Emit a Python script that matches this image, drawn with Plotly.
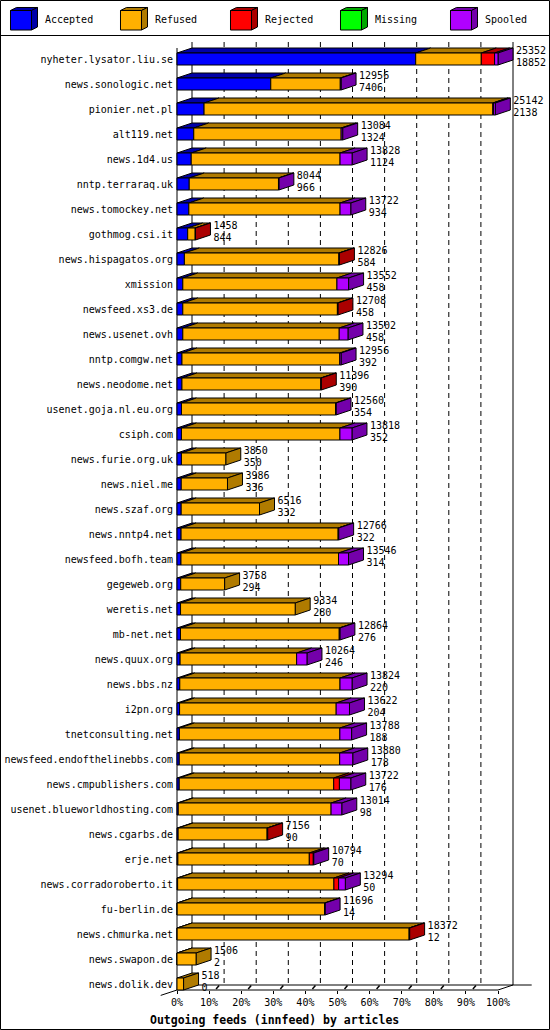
import plotly.graph_objects as go

hosts = [
    'nyheter.lysator.liu.se', 'news.sonologic.net', 'pionier.net.pl', 'alt119.net',
    'news.1d4.us', 'nntp.terraraq.uk', 'news.tomockey.net', 'gothmog.csi.it',
    'news.hispagatos.org', 'xmission', 'newsfeed.xs3.de', 'news.usenet.ovh',
    'nntp.comgw.net', 'news.neodome.net', 'usenet.goja.nl.eu.org', 'csiph.com',
    'news.furie.org.uk', 'news.niel.me', 'news.szaf.org', 'news.nntp4.net',
    'newsfeed.bofh.team', 'gegeweb.org', 'weretis.net', 'mb-net.net',
    'news.quux.org', 'news.bbs.nz', 'i2pn.org', 'tnetconsulting.net',
    'newsfeed.endofthelinebbs.com', 'news.cmpublishers.com', 'usenet.blueworldhosting.com', 'news.cgarbs.de',
    'erje.net', 'news.corradoroberto.it', 'fu-berlin.de', 'news.chmurka.net',
    'news.swapon.de', 'news.dolik.dev',
]
totals = [
    25352, 12956, 25142, 13084, 13828, 8044, 13722, 1458,
    12826, 13552, 12708, 13502, 12956, 11396, 12560, 13818,
    3850, 3986, 6516, 12766, 13546, 3758, 9334, 12864,
    10264, 13824, 13622, 13788, 13880, 13722, 13014, 7156,
    10794, 13294, 11696, 18372, 1506, 518,
]
accepted = [
    18852, 7406, 2138, 1324, 1124, 966, 934, 844,
    584, 458, 458, 458, 392, 390, 354, 352,
    350, 336, 332, 322, 314, 294, 280, 276,
    246, 220, 204, 188, 178, 176, 98, 90,
    70, 50, 14, 12, 2, 0,
]
refused = [
    5180, 5490, 22804, 11640, 11754, 7048, 11943, 594,
    12202, 12174, 12210, 12354, 12464, 10966, 12166, 12516,
    3500, 3650, 6184, 12404, 12442, 3464, 9054, 12538,
    9203, 12654, 12368, 12675, 12672, 12201, 12071, 7026,
    10379, 12344, 11642, 18320, 1504, 518,
]
rejected = [
    1050, 0, 60, 0, 0, 0, 0, 20,
    40, 0, 40, 0, 0, 40, 0, 0,
    0, 0, 0, 0, 0, 0, 0, 0,
    0, 0, 0, 0, 0, 450, 0, 40,
    315, 370, 0, 40, 0, 0,
]
missing = [
    0, 0, 0, 0, 0, 0, 0, 0,
    0, 0, 0, 0, 0, 0, 0, 0,
    0, 0, 0, 0, 0, 0, 0, 0,
    0, 0, 0, 0, 0, 0, 0, 0,
    0, 0, 0, 0, 0, 0,
]
spooled = [
    270, 60, 140, 120, 950, 30, 845, 0,
    0, 920, 0, 690, 100, 0, 40, 950,
    0, 0, 0, 40, 790, 0, 0, 50,
    815, 950, 1050, 925, 1030, 895, 845, 0,
    30, 530, 40, 0, 0, 0,
]

categories = ['Accepted', 'Refused', 'Rejected', 'Missing', 'Spooled']
front_colors = ['#0000ff', '#ffb000', '#ff0000', '#00ff00', '#b000ff']
dark_colors = ['#0000a8', '#b07b00', '#aa0000', '#00a800', '#7400aa']
tick_labels = ['0%', '10%', '20%', '30%', '40%', '50%', '60%', '70%', '80%', '90%', '100%']

W, H = 550, 1030
FONT = 'DejaVu Sans Mono'

# pixel layout of the gd-style 3d chart
X0_PX = 177      # front left axis
SPAN_PX = 321    # width of 0..100%
ROW0_PX = 59     # centre of first row
ROW_PX = 25      # row pitch
DEPTH_X = 15
DEPTH_Y = 5
BAR_H = 12


def ypx(p):
    return (p - ROW0_PX) / ROW_PX


def paper(x, y):
    return x / W, 1 - y / H


def path(pts):
    return 'M ' + ' L '.join('%.5f,%.5f' % paper(px, py) for px, py in pts) + ' Z'


def main():
    xmax = max(totals)
    apx = xmax / SPAN_PX
    dx = DEPTH_X * apx
    dy = DEPTH_Y / ROW_PX
    hh = BAR_H / 2 / ROW_PX

    series = [accepted, refused, rejected, missing, spooled]
    front = [([], []) for _ in categories]
    top = [([], []) for _ in categories]
    side = [([], []) for _ in categories]

    for i in range(len(hosts)):
        x = 0
        last = None
        for c, values in enumerate(series):
            v = values[i]
            if v <= 0:
                continue
            x1 = x + v
            front[c][0].extend([x, x1, x1, x, x, None])
            front[c][1].extend([i - hh, i - hh, i + hh, i + hh, i - hh, None])
            top[c][0].extend([x, x1, x1 + dx, x + dx, x, None])
            top[c][1].extend([i - hh, i - hh, i - hh - dy, i - hh - dy, i - hh, None])
            x = x1
            last = c
        side[last][0].extend([x, x + dx, x + dx, x, x, None])
        side[last][1].extend([i - hh, i - hh - dy, i + hh - dy, i + hh, i - hh, None])

    fig = go.Figure()
    for faces, colors in ((top, dark_colors), (side, dark_colors), (front, front_colors)):
        for c, (xs, ys) in enumerate(faces):
            if not xs:
                continue
            fig.add_trace(go.Scatter(
                x=xs, y=ys, mode='lines', fill='toself', fillcolor=colors[c],
                line=dict(color='black', width=1), name=categories[c],
                hoverinfo='skip', showlegend=False,
            ))

    label_x = [t + dx + 3 * apx for t in totals]
    rows = list(range(len(hosts)))
    fig.add_trace(go.Scatter(
        x=label_x, y=[r - 0.3 for r in rows], mode='text', text=[str(t) for t in totals],
        textposition='middle right', textfont=dict(family=FONT, size=10, color='black'),
        hoverinfo='skip', showlegend=False, cliponaxis=False,
    ))
    fig.add_trace(go.Scatter(
        x=label_x, y=[r + 0.17 for r in rows], mode='text', text=[str(a) for a in accepted],
        textposition='middle right', textfont=dict(family=FONT, size=10, color='black'),
        hoverinfo='skip', showlegend=False, cliponaxis=False,
    ))

    # axis frame, back plane and grid
    line = dict(color='black', width=1)
    y_top, y_back, y_front = ypx(42), ypx(985), ypx(990)
    shapes = [
        dict(type='line', x0=dx, x1=dx, y0=y_top, y1=y_back, line=line),
        dict(type='line', x0=xmax + dx, x1=xmax + dx, y0=y_top, y1=y_back, line=line),
        dict(type='line', x0=dx, x1=(531.7 - X0_PX) * apx, y0=y_back, y1=y_back, line=line),
        dict(type='line', x0=0, x1=0, y0=ypx(48), y1=y_front, line=line),
        dict(type='line', x0=0, x1=xmax, y0=y_front, y1=y_front, line=line),
        dict(type='line', x0=xmax, x1=xmax + dx, y0=y_front, y1=y_back, line=line),
        dict(type='line', x0=-16.3 * apx, x1=0, y0=ypx(995.4), y1=y_front, line=line),
    ]
    for j in range(1, 10):
        gx = j * xmax / 10
        shapes.append(dict(type='line', x0=gx + dx, x1=gx + dx, y0=y_top, y1=y_back,
                           line=dict(color='black', width=1, dash='5px,4px')))
        shapes.append(dict(type='line', x0=gx + 7 * apx, x1=gx + 10 * apx,
                           y0=ypx(989), y1=ypx(985.5), line=dict(color='black', width=1.5)))
    for s in shapes:
        s.update(xref='x', yref='y', layer='below')

    # frame and legend box
    bx0, by0 = paper(0.5, 0.5)
    bx1, by1 = paper(549.5, 1029.5)
    shapes.append(dict(type='rect', xref='paper', yref='paper', x0=bx0, y0=by0, x1=bx1, y1=by1,
                       line=line))
    sy = paper(0, 35.5)[1]
    shapes.append(dict(type='line', xref='paper', yref='paper', x0=0, x1=1, y0=sy, y1=sy, line=line))

    annotations = []
    for k, name in enumerate(categories):
        fx0, fy0 = 10.5 + 110 * k, 10.5
        fx1, fy1 = fx0 + 21, 30
        shapes.append(dict(type='path', xref='paper', yref='paper',
                           path=path([(fx0, fy0), (fx1, fy0), (fx1, fy1), (fx0, fy1)]),
                           fillcolor=front_colors[k], line=line))
        shapes.append(dict(type='path', xref='paper', yref='paper',
                           path=path([(fx0, fy0), (fx0 + 6, fy0 - 3), (fx1 + 6, fy0 - 3), (fx1, fy0)]),
                           fillcolor=dark_colors[k], line=line))
        shapes.append(dict(type='path', xref='paper', yref='paper',
                           path=path([(fx1, fy0), (fx1 + 6, fy0 - 3), (fx1 + 6, fy1 - 3), (fx1, fy1)]),
                           fillcolor=dark_colors[k], line=line))
        ax, ay = paper(fx0 + 32, 20)
        annotations.append(dict(xref='paper', yref='paper', x=ax, y=ay, text=name,
                                xanchor='left', yanchor='middle', showarrow=False,
                                font=dict(family=FONT, size=10, color='black')))

    tx, ty = paper(274.5, 1020)
    annotations.append(dict(xref='paper', yref='paper', x=tx, y=ty,
                            text='Outgoing feeds (innfeed) by articles',
                            xanchor='center', yanchor='middle', showarrow=False,
                            font=dict(family=FONT, size=11.5, color='black', weight='bold')))

    fig.update_layout(
        width=W, height=H,
        margin=dict(l=0, r=0, t=0, b=0),
        paper_bgcolor='white', plot_bgcolor='white',
        showlegend=False,
        shapes=shapes, annotations=annotations,
        xaxis=dict(
            range=[-X0_PX * apx, (W - X0_PX) * apx],
            anchor='free', position=(H - 990) / H,
            tickvals=[j * xmax / 10 for j in range(11)], ticktext=tick_labels,
            ticks='outside', ticklen=3, tickcolor='black',
            showgrid=False, zeroline=False, showline=False,
            tickfont=dict(family=FONT, size=10, color='black'),
        ),
        yaxis=dict(
            range=[ypx(H), ypx(0)],
            anchor='free', position=(X0_PX - 4) / W,
            tickvals=rows, ticktext=hosts, ticks='',
            showgrid=False, zeroline=False, showline=False,
            tickfont=dict(family=FONT, size=10, color='black'),
        ),
    )

    fig.write_html('out.html', config={'displayModeBar': False},
                   post_script="document.body.style.margin = '0';")


if __name__ == '__main__':
    main()
